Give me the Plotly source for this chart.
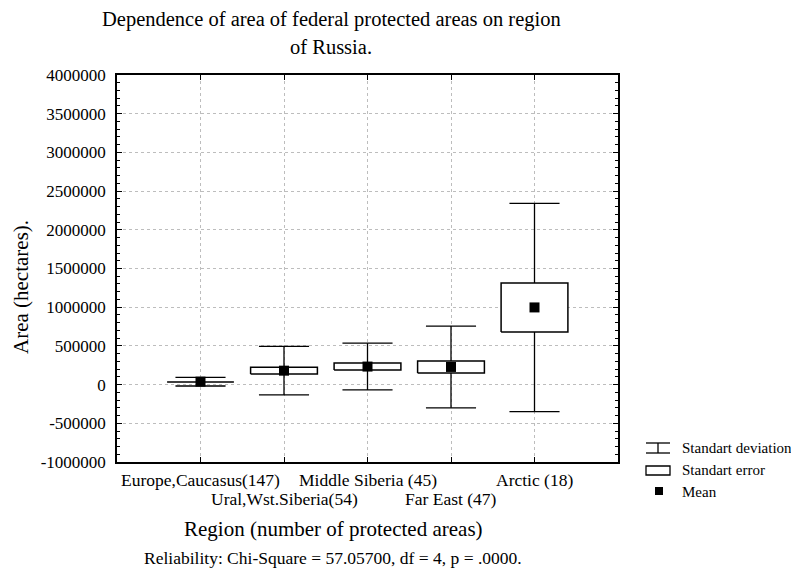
import plotly.graph_objects as go

# ---- data ----
regions = ["Europe,Caucasus(147)", "Ural,Wst.Siberia(54)", "Middle Siberia (45)",
           "Far East (47)", "Arctic (18)"]
means = [38000, 180000, 233000, 228000, 997000]
sds = [56000, 314000, 302000, 528000, 1345000]
ses = [4600, 43000, 45000, 78000, 317000]
y_tickvals = [-1000000, -500000, 0, 500000, 1000000, 1500000, 2000000,
              2500000, 3000000, 3500000, 4000000]
y_ticktext = ["-1000000", "-500000", "0", "500000", "1000000", "1500000",
              "2000000", "2500000", "3000000", "3500000", "4000000"]

FONT = "Liberation Serif"
BOX_HALF = 0.4
CAP_HALF = 0.3

fig = go.Figure()

# whiskers (standard deviation)
wx, wy = [], []
for i, (m, s) in enumerate(zip(means, sds)):
    wx += [i, i, None, i - CAP_HALF, i + CAP_HALF, None, i - CAP_HALF, i + CAP_HALF, None]
    wy += [m - s, m + s, None, m + s, m + s, None, m - s, m - s, None]
fig.add_trace(go.Scatter(x=wx, y=wy, mode="lines", line=dict(color="black", width=1.3),
                         showlegend=False, hoverinfo="skip"))

# boxes (standard error)
for i, (m, e) in enumerate(zip(means, ses)):
    fig.add_trace(go.Scatter(
        x=[i - BOX_HALF, i + BOX_HALF, i + BOX_HALF, i - BOX_HALF, i - BOX_HALF],
        y=[m - e, m - e, m + e, m + e, m - e],
        mode="lines", fill="toself", fillcolor="white",
        line=dict(color="black", width=1.5), showlegend=False, hoverinfo="skip"))

# means
fig.add_trace(go.Scatter(x=list(range(len(regions))), y=means, mode="markers",
                         marker=dict(symbol="square", size=10, color="black"),
                         showlegend=False))

# page body has an 8px margin, so the figure is 8px smaller and positions
# below are given in reference-picture pixels
W, H = 791, 560
L, T = 109, 67
PW, PH = 501, 387
R, B = W - L - PW, H - T - PH
REF_L, REF_B = 117, 462


def px(xp):
    return (xp - REF_L) / PW


def py(yp):
    return (REF_B - yp) / PH


def ann(text, x, y, size, xref="paper", xanchor="center", **kw):
    return dict(text=text, x=x, y=y, xref=xref, yref="paper", showarrow=False,
                xanchor=xanchor, yanchor="middle",
                font=dict(size=size, family=FONT, color="black"), **kw)


annotations = [
    ann("Dependence of area of federal protected areas on region", px(331), py(20), 20.5),
    ann("of Russia.", px(331), py(47), 20.5),
    ann("Region (number of protected areas)", px(333), py(529), 21),
    ann("Reliability: Chi-Square = 57.05700, df = 4, p = .0000.", px(333), py(558), 17.5),
    ann("Area (hectares).", px(21), py(287), 21, textangle=-90),
]
for i, r in enumerate(regions):
    annotations.append(ann(r, i, py(480 if i % 2 == 0 else 499), 17.5, xref="x"))
for txt, yy in [("Standart deviation", 448), ("Standart error", 470.5), ("Mean", 491.5)]:
    annotations.append(ann(txt, px(680), py(yy), 15, xanchor="left"))

shapes = [
    dict(type="line", xref="paper", yref="paper", x0=px(646), x1=px(670), y0=py(443), y1=py(443),
         line=dict(color="black", width=1.3)),
    dict(type="line", xref="paper", yref="paper", x0=px(646), x1=px(670), y0=py(453), y1=py(453),
         line=dict(color="black", width=1.3)),
    dict(type="line", xref="paper", yref="paper", x0=px(658), x1=px(658), y0=py(443), y1=py(453),
         line=dict(color="black", width=1.3)),
    dict(type="rect", xref="paper", yref="paper", x0=px(646), x1=px(670), y0=py(466), y1=py(475),
         line=dict(color="black", width=1.3), fillcolor="white"),
    dict(type="rect", xref="paper", yref="paper", x0=px(655), x1=px(663), y0=py(487), y1=py(495),
         line=dict(width=0), fillcolor="black"),
]

fig.update_layout(
    width=W, height=H,
    margin=dict(l=L, r=R, t=T, b=B, autoexpand=False),
    paper_bgcolor="white", plot_bgcolor="white",
    font=dict(family=FONT, color="black"),
    annotations=annotations, shapes=shapes,
    showlegend=False,
    xaxis=dict(range=[-1, 5], tickvals=list(range(-1, 6)), showticklabels=False,
               showgrid=True, gridcolor="#bdbdbd", griddash="dot", gridwidth=1,
               zeroline=False, showline=True, linecolor="black", linewidth=1.5,
               mirror="ticks", ticks="inside", ticklen=5, tickcolor="black"),
    yaxis=dict(range=[-1000000, 4000000], tickvals=y_tickvals, ticktext=y_ticktext,
               showgrid=True, gridcolor="#bdbdbd", griddash="dot", gridwidth=1,
               zeroline=False, showline=True, linecolor="black", linewidth=1.5,
               mirror="ticks", ticks="inside", ticklen=5, tickcolor="black",
               ticklabelstandoff=6,
               minor=dict(dtick=100000, tick0=0, ticks="inside", ticklen=3,
                          tickcolor="black", showgrid=False),
               tickfont=dict(size=17, family=FONT, color="black")),
)

fig.write_html("out.html")
